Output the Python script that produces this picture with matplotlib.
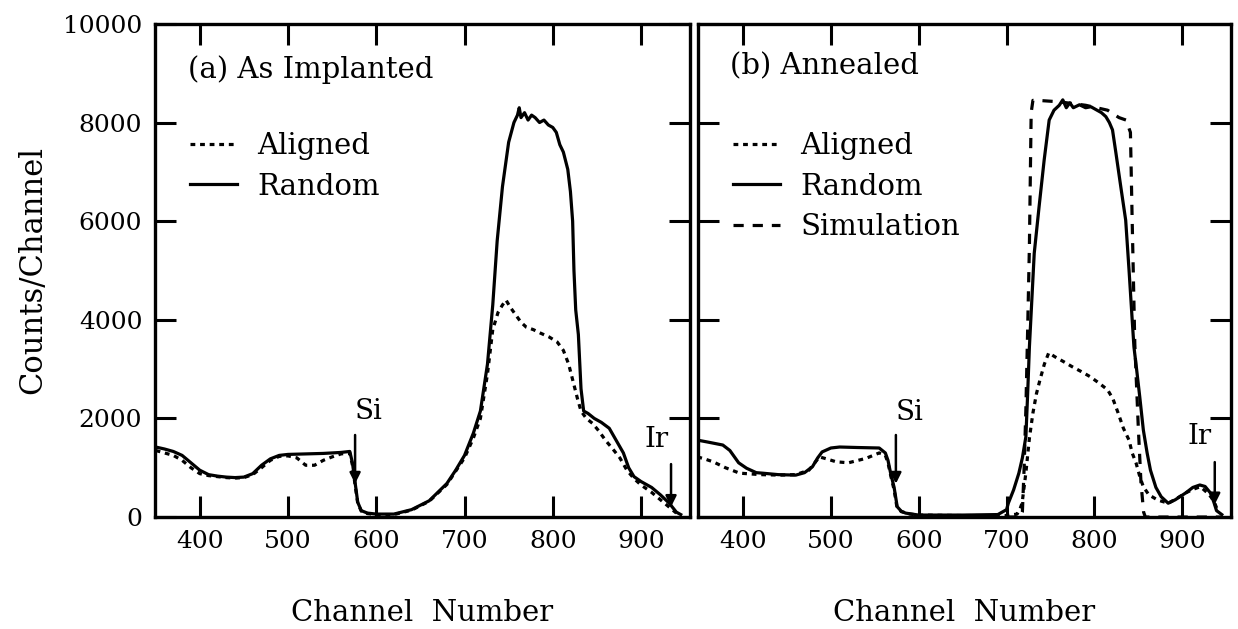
"""
RBS spectra: as-implanted vs annealed (aligned / random / simulation)
"""
import numpy as np
import matplotlib
matplotlib.use('Agg')
import matplotlib.pyplot as plt
from matplotlib import rcParams

rcParams['font.family'] = 'serif'
rcParams['font.serif'] = ['DejaVu Serif']
rcParams['font.size'] = 18

# ---- (a) As Implanted ----
chan_a_random = [350, 360, 370, 380, 390, 400, 410, 420, 430, 440, 450, 460, 470, 480, 490,
                 500, 520, 540, 560, 570, 573, 576, 579, 583, 590, 600, 620, 640, 660, 680,
                 690, 700, 710, 718, 726, 732, 737, 743, 750, 756, 760, 762, 764, 768, 772,
                 776, 780, 785, 790, 795, 800, 804, 808, 812, 817, 820, 822.5, 824, 826, 829,
                 832, 835, 840, 847, 855, 864, 872, 880, 886, 892, 900, 912, 922, 932, 940, 945]
counts_a_random = [1420, 1380, 1330, 1250, 1100, 950, 860, 830, 810, 800, 810, 880, 1050, 1180, 1250,
                   1270, 1280, 1290, 1310, 1330, 1100, 700, 300, 130, 80, 60, 60, 150, 330, 680,
                   950, 1250, 1700, 2150, 3100, 4300, 5600, 6700, 7600, 8000, 8150, 8300, 8100, 8200, 8050,
                   8150, 8100, 8000, 8050, 7950, 7900, 7800, 7550, 7400, 7050, 6600, 6000, 5000, 4200, 3700,
                   2600, 2150, 2100, 2000, 1920, 1800, 1550, 1300, 1000, 820, 720, 600, 450, 280, 100, 50]

chan_a_aligned = [350, 360, 370, 380, 390, 400, 410, 420, 430, 440, 450, 460, 470, 480, 490,
                  500, 510, 520, 530, 540, 550, 560, 570, 573, 576, 579, 583, 590, 600, 620,
                  640, 660, 680, 690, 700, 710, 718, 726, 732, 738, 743, 747, 752, 758, 764,
                  770, 778, 786, 796, 805, 812, 818, 823, 828, 832, 838, 845, 852, 860, 868,
                  876, 884, 892, 900, 912, 922, 932, 940]
counts_a_aligned = [1350, 1300, 1250, 1150, 1000, 880, 840, 820, 800, 790, 800, 860, 1000, 1150, 1230,
                    1240, 1200, 1050, 1050, 1150, 1220, 1280, 1300, 1050, 650, 280, 120, 70, 50, 50,
                    140, 320, 660, 930, 1200, 1600, 2000, 2900, 3800, 4150, 4300, 4400, 4250, 4100, 3950,
                    3850, 3800, 3730, 3650, 3550, 3380, 3100, 2750, 2400, 2150, 2000, 1900, 1750, 1550, 1380,
                    1200, 950, 780, 650, 500, 350, 200, 80]

# ---- (b) Annealed ----
chan_b_random = [348, 360, 377, 385, 395, 404, 415, 422, 440, 460, 470, 479, 485, 490, 500,
                 510, 530, 555, 562, 565, 568, 572, 575.5, 580, 585, 600, 650, 690, 700, 702,
                 708, 714, 718, 722, 724, 726, 731.5, 737, 742.8, 748.5, 754, 760, 764, 768, 772,
                 776, 783, 790, 796, 802, 808, 813, 817, 820.6, 824.5, 830, 835.6, 839.4, 843, 845,
                 848, 851.6, 855.7, 860, 863.8, 870, 876, 884, 892, 904, 912, 920, 926, 932, 936,
                 939, 945]
counts_b_random = [1560, 1520, 1460, 1350, 1100, 990, 900, 890, 860, 850, 900, 1020, 1200, 1320, 1400,
                   1420, 1410, 1400, 1300, 1150, 890, 600, 210, 120, 80, 40, 40, 50, 150, 280,
                   550, 890, 1200, 1630, 2500, 3450, 5350, 6290, 7240, 8050, 8250, 8350, 8460, 8300, 8400,
                   8300, 8360, 8300, 8320, 8260, 8200, 8120, 8000, 7850, 7380, 6700, 6020, 5010, 4000, 3450,
                   3000, 2440, 1765, 1300, 950, 600, 412, 280, 350, 490, 600, 650, 620, 490, 300,
                   130, 50]

chan_b_aligned = [348, 356, 366, 380, 396, 420, 442, 460, 475, 487, 495, 506, 520, 540, 555,
                  562, 565, 568, 572, 575, 580, 590, 600, 650, 700, 712, 715, 717.7, 722, 726,
                  730, 734, 738, 743, 748, 755, 765, 774.5, 785, 794.8, 805, 815, 821, 827, 833,
                  839.4, 843, 847.5, 852, 855.7, 862, 872, 884, 894, 904, 912, 920.6, 928, 933,
                  937, 941]
counts_b_aligned = [1220, 1180, 1120, 1000, 890, 860, 850, 860, 950, 1220, 1180, 1120, 1100, 1190, 1300,
                    1250, 1100, 850, 550, 220, 110, 60, 40, 30, 30, 60, 150, 284, 900, 1600,
                    2110, 2500, 2780, 3100, 3330, 3250, 3150, 3050, 2950, 2850, 2720, 2580, 2400, 2110, 1800,
                    1560, 1300, 1090, 800, 615, 450, 345, 280, 380, 490, 560, 615, 500, 400,
                    280, 100]

chan_b_sim = [700, 716, 718, 720, 722, 724, 726, 728, 730, 735, 760, 790, 815, 828, 836,
              841, 843, 846, 850, 853, 856, 858, 945]
counts_b_sim = [0, 0, 100, 1000, 2200, 3800, 5500, 8200, 8450, 8450, 8420, 8350, 8250, 8100, 8050,
                7800, 6000, 3500, 1800, 700, 100, 0, 0]

x_ticks = [400, 500, 600, 700, 800, 900]
y_ticks = [0, 2000, 4000, 6000, 8000, 10000]

fig = plt.figure(figsize=(12.38, 6.29), dpi=100)
ax1 = fig.add_axes([0.125, 0.178, 0.432, 0.784])
ax2 = fig.add_axes([0.564, 0.178, 0.430, 0.784])

dot_style = (0, (1.5, 1.5))
dash_style = (0, (3.2, 2.8))

ax1.plot(chan_a_aligned, counts_a_aligned, color='k', lw=2.3, ls=dot_style, label='Aligned')
ax1.plot(chan_a_random, counts_a_random, color='k', lw=2.3, label='Random')

ax2.plot(chan_b_aligned, counts_b_aligned, color='k', lw=2.3, ls=dot_style, label='Aligned')
ax2.plot(chan_b_random, counts_b_random, color='k', lw=2.3, label='Random')
ax2.plot(chan_b_sim, counts_b_sim, color='k', lw=2.3, ls=dash_style, label='Simulation')

for ax in (ax1, ax2):
    ax.set_xlim(349, 955)
    ax.set_ylim(0, 10000)
    ax.set_xticks(x_ticks)
    ax.set_yticks(y_ticks)
    ax.tick_params(direction='in', length=15, width=2.2, top=True, right=True,
                   labelsize=18, pad=9)
    for s in ax.spines.values():
        s.set_linewidth(2.4)
    ax.legend(loc='upper left', bbox_to_anchor=(0.066, 0.78), frameon=False,
              fontsize=21, handlelength=1.6, handletextpad=0.7, labelspacing=0.42,
              borderpad=0, borderaxespad=0)

ax2.tick_params(labelleft=False)

ax1.text(387, 9070, '(a) As Implanted', fontsize=21, va='center', ha='left')
ax2.text(385, 9130, '(b) Annealed', fontsize=21, va='center', ha='left')

# Si / Ir surface markers
arrow = dict(arrowstyle='-|>', lw=1.8, color='k', mutation_scale=16)
ax1.annotate('', xy=(576, 620), xytext=(576, 1720), arrowprops=arrow)
ax1.text(591, 2150, 'Si', fontsize=20, ha='center', va='center')
ax1.annotate('', xy=(934, 150), xytext=(934, 1130), arrowprops=arrow)
ax1.text(918, 1580, 'Ir', fontsize=20, ha='center', va='center')

ax2.annotate('', xy=(574, 620), xytext=(574, 1720), arrowprops=arrow)
ax2.text(590, 2130, 'Si', fontsize=20, ha='center', va='center')
ax2.annotate('', xy=(937, 200), xytext=(937, 1170), arrowprops=arrow)
ax2.text(920, 1630, 'Ir', fontsize=20, ha='center', va='center')

fig.text(33 / 1238, 1 - 270 / 629, 'Counts/Channel', rotation=90, fontsize=22,
         ha='center', va='center')
fig.text(422 / 1238, 1 - 613 / 629, 'Channel  Number', fontsize=21, ha='center', va='center')
fig.text(964 / 1238, 1 - 613 / 629, 'Channel  Number', fontsize=21, ha='center', va='center')

fig.savefig('out.png', dpi=100)
plt.close(fig)
